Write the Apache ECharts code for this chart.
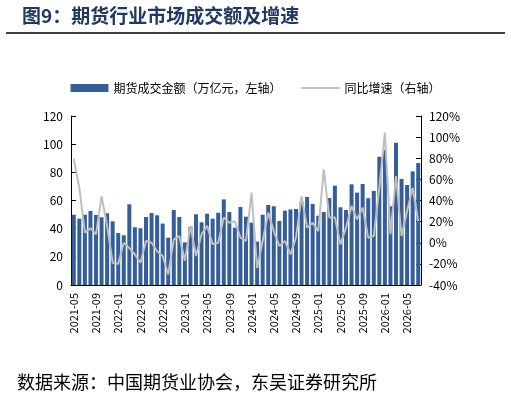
<!DOCTYPE html>
<html>
<head>
	<meta charset="utf-8" />
	<script src="https://cdn.jsdelivr.net/npm/echarts@6/dist/echarts.min.js"></script>
	<style>
		html, body {margin:0;padding:0;background:#fff;}
		#chart {width:511px;height:402px;}
	</style>
</head>
<body>
	<div id="chart"></div>
	<script>
		// 2021-05 ~ 2026-07
		var months = [];
		for (var i = 0; i < 63; i++) {
			var m = 4 + i; // 0-based month from Jan 2021
			var y = 2021 + Math.floor(m / 12);
			var mm = (m % 12) + 1;
			months.push(y + '-' + (mm < 10 ? '0' + mm : mm));
		}

		var turnover = [
			49.9, 47.1, 49.9, 52.6, 49.7, 48.1, 50.9, 45.2, 36.9, 35.3, 57.3, 41.0, 40.3, 48.3, 51.1, 49.5,
			43.6, 33.6, 53.3, 48.3, 30.3, 41.4, 50.2, 44.5, 50.6, 47.1, 51.3, 60.8, 51.8, 40.7, 55.4, 48.5,
			44.3, 30.8, 49.9, 56.8, 55.9, 45.5, 52.8, 53.7, 54.0, 59.2, 62.5, 57.5, 49.2, 51.8, 61.8, 70.5,
			55.2, 53.3, 71.5, 65.6, 71.7, 61.6, 66.8, 91.1, 96.0, 55.9, 101.0, 75.3, 71.0, 80.7, 86.6
		];

		var growth = [
			79.6, 52, 9.5, 13.7, 8, 44, 16, -19, -20, 0, -5, -11, -19, 1.7, 0, -8,
			-12.5, -30, 3, 6.4, -17, 16, -12.5, 8, 16, -1.5, 0, 24, 19, 20.5, 4.8, 1.7,
			47.4, -24, 1.7, 28.5, 11, -3, 1.7, -11, 4.8, 44, 14.3, 19, 11, 69.5, 24, 24,
			-1.5, 14.3, 34.8, 22.2, 33.2, 4.8, 6.4, 52, 104.3, 8, 63.2, 6.4, 30, 52, 20.5
		];

		var font = '"Noto Sans CJK SC", sans-serif';
		var chart = echarts.init(document.getElementById('chart'));

		var option = {
			animation: false,
			textStyle: {fontFamily: font},
			title: {
				text: '图9：期货行业市场成交额及增速',
				left: 17,
				top: 1,
				textStyle: {fontSize: 19, fontWeight: 'bold', color: '#1f3864', fontFamily: font}
			},
			graphic: [
				{type: 'line', shape: {x1: 6, y1: 33, x2: 505, y2: 33}, style: {stroke: '#000', lineWidth: 1.5}},
				{type: 'text', left: 17, top: 373, style: {text: '数据来源：中国期货业协会，东吴证券研究所', font: '18px ' + font, fill: '#000'}}
			],
			legend: {
				top: 77,
				left: 'center',
				itemWidth: 38,
				itemHeight: 8,
				itemGap: 20,
				textStyle: {fontSize: 12, color: '#000'},
				data: [
					{name: '期货成交金额（万亿元，左轴）', icon: 'rect'},
					{name: '同比增速（右轴）', icon: 'path://M0,0L40,0L40,2L0,2Z'}
				]
			},
			grid: {left: 71, right: 90, top: 116, bottom: 117},
			xAxis: {
				type: 'category',
				data: months,
				axisLine: {lineStyle: {color: '#000'}},
				axisTick: {interval: 3, alignWithLabel: true, lineStyle: {color: '#000'}},
				axisLabel: {interval: 3, rotate: 90, fontSize: 11, color: '#000'}
			},
			yAxis: [
				{
					type: 'value', min: 0, max: 120, interval: 20,
					splitLine: {show: false},
					axisLine: {show: true, lineStyle: {color: '#000'}},
					axisTick: {show: true, inside: true, lineStyle: {color: '#000'}},
					axisLabel: {fontSize: 12, color: '#000'}
				},
				{
					type: 'value', min: -40, max: 120, interval: 20,
					splitLine: {show: false},
					axisLine: {show: true, lineStyle: {color: '#000'}},
					axisTick: {show: true, inside: true, lineStyle: {color: '#000'}},
					axisLabel: {fontSize: 12, color: '#000', formatter: '{value}%'}
				}
			],
			series: [
				{
					name: '期货成交金额（万亿元，左轴）',
					type: 'bar',
					data: turnover,
					barWidth: '72%',
					itemStyle: {color: '#335e99'}
				},
				{
					name: '同比增速（右轴）',
					type: 'line',
					yAxisIndex: 1,
					data: growth,
					symbol: 'none',
					lineStyle: {color: '#bfbfbf', width: 2},
					itemStyle: {color: '#bfbfbf'}
				}
			]
		};

		chart.setOption(option);
	</script>
</body>
</html>
